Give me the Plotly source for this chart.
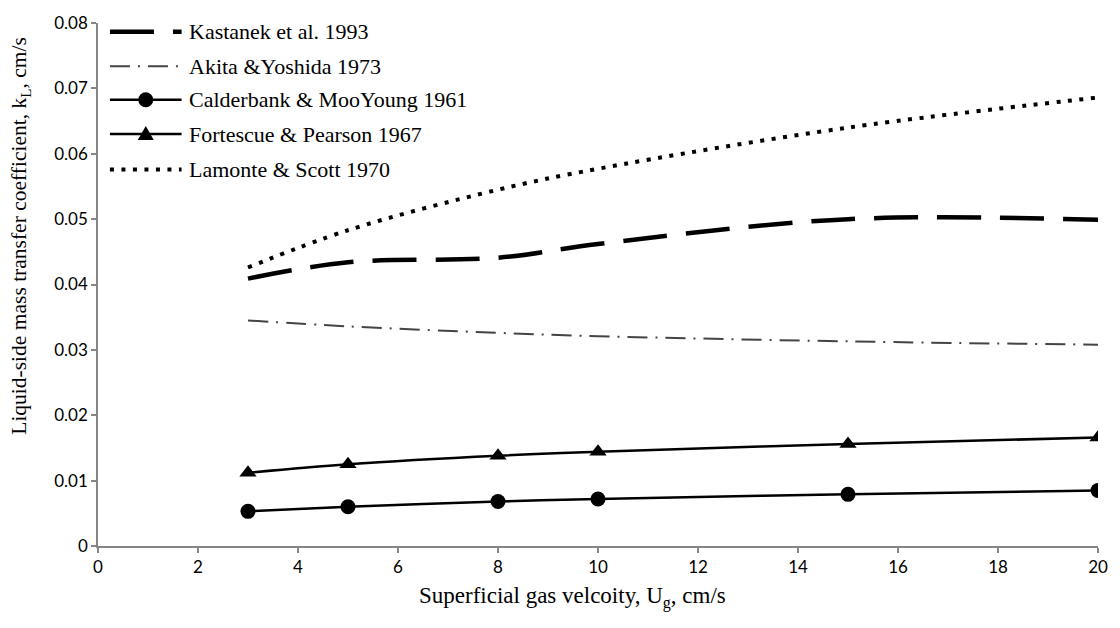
import plotly.graph_objects as go

# Superficial gas velocity (cm/s)
ug = [3, 5, 8, 10, 15, 20]

# Liquid-side mass transfer coefficient kL (cm/s) for each correlation
kastanek = [0.0409, 0.0434, 0.0441, 0.0462, 0.0500, 0.0499]
akita = [0.0345, 0.0336, 0.0326, 0.0321, 0.0313, 0.0308]
calderbank = [0.0053, 0.0060, 0.0068, 0.0072, 0.0079, 0.0085]
fortescue = [0.0112, 0.0125, 0.0138, 0.0144, 0.0156, 0.0166]
lamonte = [0.0426, 0.0483, 0.0545, 0.0577, 0.0640, 0.0686]

series_names = [
    "Kastanek et al. 1993",
    "Akita &Yoshida 1973",
    "Calderbank & MooYoung 1961",
    "Fortescue & Pearson 1967",
    "Lamonte & Scott 1970",
]

x_ticks = [0, 2, 4, 6, 8, 10, 12, 14, 16, 18, 20]
y_ticks = [0, 0.01, 0.02, 0.03, 0.04, 0.05, 0.06, 0.07, 0.08]
y_tick_text = ["0", "0.01", "0.02", "0.03", "0.04", "0.05", "0.06", "0.07", "0.08"]

SERIF = "Liberation Serif"
SANS = "Lato"

W, H = 1120, 628
ML, MR, MT, MB = 98, 17, 14, 82
PW, PH = W - ML - MR, H - MT - MB


def px_x(px):
    return (px - ML) / PW


def px_y(py):
    return (H - MB - py) / PH


styles = [
    dict(line=dict(color="black", width=4.5, dash="44px,19px"), marker=None),
    dict(line=dict(color="#444444", width=2, dash="20px,8px,2px,8px"), marker=None),
    dict(line=dict(color="black", width=2.5, dash="solid"), marker="circle"),
    dict(line=dict(color="black", width=2.5, dash="solid"), marker="triangle-up"),
    dict(line=dict(color="black", width=4, dash="4px,7.5px"), marker=None),
]
series_values = [kastanek, akita, calderbank, fortescue, lamonte]
marker_sizes = {"circle": 15, "triangle-up": 15}

fig = go.Figure()
for name, vals, st in zip(series_names, series_values, styles):
    line = dict(st["line"], shape="spline")
    if st["marker"]:
        fig.add_trace(go.Scatter(
            x=ug, y=vals, name=name, mode="lines+markers", line=line,
            marker=dict(symbol=st["marker"], size=marker_sizes[st["marker"]], color="black"),
            showlegend=False))
    else:
        fig.add_trace(go.Scatter(
            x=ug, y=vals, name=name, mode="lines", line=line, showlegend=False))

# Legend drawn as shapes + text so the key samples can be long
shapes = []
annotations = []
row_y = [23, 58, 92, 127, 163]
sample_x0, sample_x1, text_x = 110, 182, 187
for name, st, ry in zip(series_names, styles, row_y):
    shapes.append(dict(
        type="line", xref="paper", yref="paper",
        x0=px_x(sample_x0), x1=px_x(sample_x1), y0=px_y(ry), y1=px_y(ry),
        line=dict(color=st["line"]["color"], width=st["line"]["width"], dash=st["line"]["dash"]),
    ))
    cx = (sample_x0 + sample_x1) / 2
    if st["marker"] == "circle":
        shapes.append(dict(
            type="circle", xref="paper", yref="paper", xsizemode="pixel", ysizemode="pixel",
            xanchor=px_x(cx), yanchor=px_y(ry), x0=-7.5, x1=7.5, y0=-7.5, y1=7.5,
            fillcolor="black", line=dict(width=0)))
    elif st["marker"] == "triangle-up":
        shapes.append(dict(
            type="path", xref="paper", yref="paper", xsizemode="pixel", ysizemode="pixel",
            xanchor=px_x(cx), yanchor=px_y(ry), path="M-8,-6 L8,-6 L0,8 Z",
            fillcolor="black", line=dict(width=0)))
    annotations.append(dict(
        text=name, xref="paper", yref="paper", x=px_x(text_x), y=px_y(ry),
        xanchor="left", yanchor="middle", showarrow=False,
        font=dict(family=SERIF, size=22, color="black")))

annotations.append(dict(
    text="Superficial gas velcoity, U<sub>g</sub>, cm/s",
    xref="paper", yref="paper", x=px_x(575), y=px_y(598),
    xanchor="center", yanchor="middle", showarrow=False,
    font=dict(family=SERIF, size=23, color="black")))
annotations.append(dict(
    text="Liquid-side mass transfer coefficient, k<sub>L</sub>, cm/s",
    xref="paper", yref="paper", x=px_x(20), y=px_y(230),
    xanchor="center", yanchor="middle", textangle=-90, showarrow=False,
    font=dict(family=SERIF, size=21.5, color="black")))

axis_common = dict(
    showgrid=False, zeroline=False, showline=True, linecolor="#868686", linewidth=1.5,
    ticks="outside", tickcolor="#868686", ticklen=5, tickwidth=1.5,
    tickfont=dict(family=SANS, size=17, color="black"),
)

fig.update_xaxes(range=[0, 20], tickvals=x_ticks, **axis_common)
fig.update_yaxes(range=[0, 0.08], tickvals=y_ticks, ticktext=y_tick_text, **axis_common)

fig.update_layout(
    width=W, height=H,
    margin=dict(l=ML, r=MR, t=MT, b=MB),
    paper_bgcolor="white", plot_bgcolor="white",
    showlegend=False,
    shapes=shapes,
    annotations=annotations,
)

fig.write_html("out.html")
